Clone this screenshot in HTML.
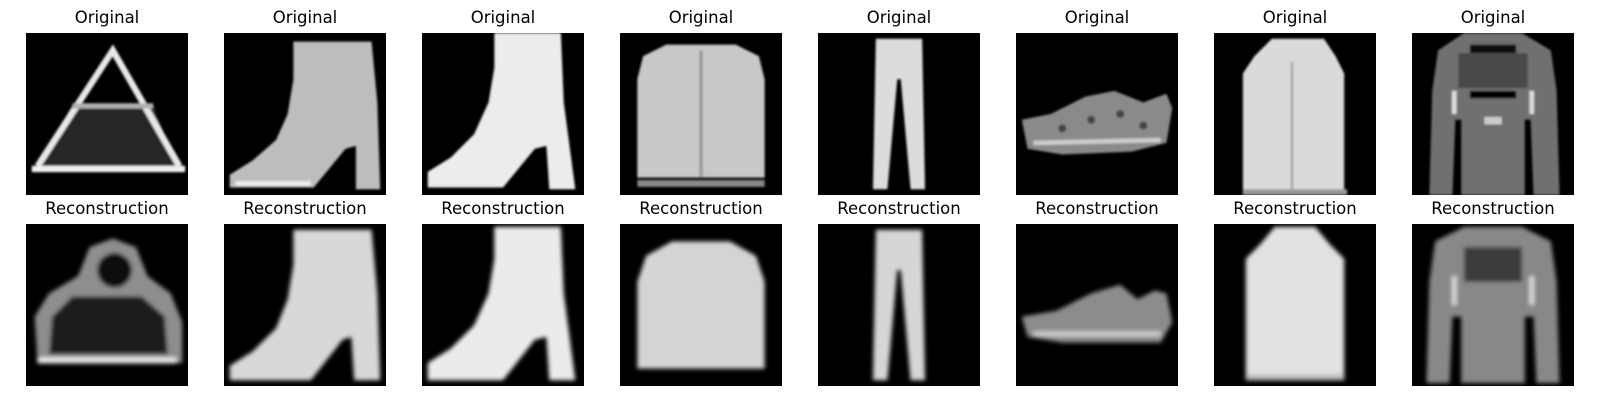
<!DOCTYPE html>
<html><head><meta charset="utf-8"><style>
body{margin:0;background:#fff;width:1600px;height:400px;overflow:hidden;font-family:"DejaVu Sans","Liberation Sans",sans-serif}
.t{position:absolute;width:162px;text-align:center;font-size:16.5px;color:#000;line-height:20px}
svg.img{position:absolute;width:162px;height:162px;background:#000}
</style></head><body>
<svg width="0" height="0" style="position:absolute"><defs><filter id="b"><feGaussianBlur stdDeviation="0.35"/></filter><filter id="b2"><feGaussianBlur stdDeviation="0.2"/></filter></defs></svg>
<div id="wrap">
<!-- Row 1 -->
<div class="t" style="left:26px;top:8px">Original</div>
<svg class="img" style="left:26px;top:33px" viewBox="0 0 28 28"><g filter="url(#b2)">
<polygon points="8,12.5 22,12.5 26,23 2,23" fill="#262626"/>
<polyline points="2,23 15,3 26.5,23" fill="none" stroke="#e8e8e8" stroke-width="1.1"/>
<line x1="8" y1="12.6" x2="22" y2="12.6" stroke="#b0b0b0" stroke-width="0.9"/>
<line x1="1" y1="23.5" x2="27.5" y2="23.5" stroke="#f0f0f0" stroke-width="1.1"/></g></svg>
<div class="t" style="left:224px;top:8px">Original</div>
<svg class="img" style="left:224px;top:33px" viewBox="0 0 28 28"><g filter="url(#b2)">
<polygon points="12,1.5 25.5,1.5 26.5,12 27,27 22.8,27 22.8,19.5 21,20 15.5,26.7 1,26.7 1,24.5 5,22 9,18.5 11,14 12,8" fill="#bdbdbd"/>
<line x1="2" y1="26" x2="15" y2="26" stroke="#eee" stroke-width="0.8"/></g></svg>
<div class="t" style="left:422px;top:8px">Original</div>
<svg class="img" style="left:422px;top:33px" viewBox="0 0 28 28"><g filter="url(#b2)">
<polygon points="12.5,0 24,0 24.5,12 26.5,27 22,27 21.5,19.5 19.5,20 14,26.7 1,26.7 1,24 5,21.5 9,17.5 11.5,12 12.5,6" fill="#ececec"/></g></svg>
<div class="t" style="left:620px;top:8px">Original</div>
<svg class="img" style="left:620px;top:33px" viewBox="0 0 28 28"><g filter="url(#b2)">
<path d="M8,2 L20,2 L24,4 L25,8 L25,25 L3,25 L3,8 L4,4 Z" fill="#c8c8c8"/>
<line x1="14" y1="3" x2="14" y2="25" stroke="#999" stroke-width="0.6"/>
<line x1="3" y1="26" x2="25" y2="26" stroke="#888" stroke-width="1.2"/></g></svg>
<div class="t" style="left:818px;top:8px">Original</div>
<svg class="img" style="left:818px;top:33px" viewBox="0 0 28 28"><g filter="url(#b2)">
<path d="M10,1 L18,1 L18.5,27 L16,27 L14.3,8 L13.7,8 L12,27 L9.5,27 Z" fill="#dcdcdc"/></g></svg>
<div class="t" style="left:1016px;top:8px">Original</div>
<svg class="img" style="left:1016px;top:33px" viewBox="0 0 28 28"><g filter="url(#b2)">
<path d="M1,15 L6,14 L12,11 L17,10 L22,12 L26,10.5 L27,13 L26,19 L20,20.5 L8,21 L2,20 Z" fill="#8a8a8a"/>
<circle cx="8" cy="16.5" r="0.7" fill="#444"/><circle cx="13" cy="15" r="0.7" fill="#444"/><circle cx="18" cy="14" r="0.7" fill="#444"/><circle cx="22" cy="16" r="0.7" fill="#444"/>
<line x1="3" y1="19" x2="25" y2="18.5" stroke="#ccc" stroke-width="0.8"/></g></svg>
<div class="t" style="left:1214px;top:8px">Original</div>
<svg class="img" style="left:1214px;top:33px" viewBox="0 0 28 28"><g filter="url(#b2)">
<path d="M10,1 L19,1 L21,4 L22.5,7 L22.5,28 L5,28 L5,7 L7,4 Z" fill="#dadada"/>
<line x1="13.5" y1="5" x2="13.5" y2="27" stroke="#aaa" stroke-width="0.5"/>
<line x1="5" y1="27.5" x2="23" y2="27.5" stroke="#999" stroke-width="1"/></g></svg>
<div class="t" style="left:1412px;top:8px">Original</div>
<svg class="img" style="left:1412px;top:33px" viewBox="0 0 28 28"><g filter="url(#b2)">
<path d="M9,0 L19,0 L24,3 L25,10 L25.5,28 L21,28 L20.5,15 L19.5,15 L19.5,28 L8.5,28 L8.5,15 L7.5,15 L7,28 L3,28 L3.5,10 L4.5,3 Z" fill="#707070"/>
<rect x="10" y="2" width="8" height="1.5" fill="#111"/>
<rect x="8" y="3.5" width="12" height="6" fill="#4a4a4a"/>
<rect x="10" y="10" width="8" height="1.3" fill="#000"/>
<rect x="12.5" y="14.5" width="3" height="1.3" fill="#ccc"/>
<line x1="7.3" y1="10" x2="7.3" y2="14" stroke="#ddd" stroke-width="0.8"/><line x1="20.7" y1="10" x2="20.7" y2="14" stroke="#ddd" stroke-width="0.8"/></g></svg>
<!-- Row 2 -->
<div class="t" style="left:26px;top:199px">Reconstruction</div>
<svg class="img" style="left:26px;top:224px" viewBox="0 0 28 28"><g filter="url(#b)">
<path d="M2,24 L1.5,16 L4,12 L9,9 L11,4 L15,2.5 L19,4 L21,9 L25,12 L27,17 L27,24 Z" fill="#8e8e8e"/>
<path d="M4,22.5 L4.5,16 L8,12.5 L20,12.5 L24,16 L24.5,22.5 Z" fill="#1a1a1a"/>
<ellipse cx="15.3" cy="8" rx="3" ry="3" fill="#111"/>
<line x1="2" y1="23.6" x2="26" y2="23.6" stroke="#eee" stroke-width="1"/></g></svg>
<div class="t" style="left:224px;top:199px">Reconstruction</div>
<svg class="img" style="left:224px;top:224px" viewBox="0 0 28 28"><g filter="url(#b)">
<polygon points="12,1 25.5,1 26.5,12 27,27 22.5,27 22,19.5 20.5,20 15,27 1,27 1,24.5 5,22 9,18 11,13 12,7" fill="#d8d8d8"/></g></svg>
<div class="t" style="left:422px;top:199px">Reconstruction</div>
<svg class="img" style="left:422px;top:224px" viewBox="0 0 28 28"><g filter="url(#b)">
<polygon points="12.5,0.5 24,0.5 24.5,12 26.5,27 22,27 21.5,19.5 19.5,20 14,27 1,27 1,24 5,21.5 9,17.5 11.5,12 12.5,6" fill="#ebebeb"/></g></svg>
<div class="t" style="left:620px;top:199px">Reconstruction</div>
<svg class="img" style="left:620px;top:224px" viewBox="0 0 28 28"><g filter="url(#b)">
<path d="M9,3 L19,3 L23.5,5.5 L25,10 L25,25 L3,25 L3,10 L4.5,5.5 Z" fill="#d4d4d4"/></g></svg>
<div class="t" style="left:818px;top:199px">Reconstruction</div>
<svg class="img" style="left:818px;top:224px" viewBox="0 0 28 28"><g filter="url(#b)">
<path d="M10,1 L18,1 L18.5,27 L16,27 L14.3,8 L13.7,8 L12,27 L9.5,27 Z" fill="#d6d6d6"/></g></svg>
<div class="t" style="left:1016px;top:199px">Reconstruction</div>
<svg class="img" style="left:1016px;top:224px" viewBox="0 0 28 28"><g filter="url(#b)">
<path d="M1,16 L7,15 L13,12 L18,10.5 L21,13 L24,11.5 L26,12 L27,17 L25,20.5 L8,20.5 L2,19.5 Z" fill="#8c8c8c"/>
<line x1="3" y1="19" x2="25" y2="19" stroke="#ccc" stroke-width="0.9"/></g></svg>
<div class="t" style="left:1214px;top:199px">Reconstruction</div>
<svg class="img" style="left:1214px;top:224px" viewBox="0 0 28 28"><g filter="url(#b)">
<path d="M10.5,0.5 L17.5,0.5 L20,3.5 L22.5,6 L22.5,27 L5.5,27 L5.5,6 L8,3.5 Z" fill="#e2e2e2"/>
<line x1="5.5" y1="26.5" x2="22.5" y2="26.5" stroke="#bbb" stroke-width="1"/></g></svg>
<div class="t" style="left:1412px;top:199px">Reconstruction</div>
<svg class="img" style="left:1412px;top:224px" viewBox="0 0 28 28"><g filter="url(#b)">
<path d="M9,0.5 L19,0.5 L24,3 L25,10 L25.5,27.5 L21.5,27.5 L21,16 L19.5,16 L19.5,27.5 L8.5,27.5 L8.5,16 L7,16 L6.5,27.5 L2.5,27.5 L3,10 L4,3 Z" fill="#888"/>
<rect x="9" y="4" width="10" height="6" fill="#3a3a3a"/>
<line x1="7.3" y1="9" x2="7.3" y2="14" stroke="#ddd" stroke-width="0.8"/><line x1="20.7" y1="9" x2="20.7" y2="14" stroke="#ddd" stroke-width="0.8"/></g></svg>
</div>
</body></html>
